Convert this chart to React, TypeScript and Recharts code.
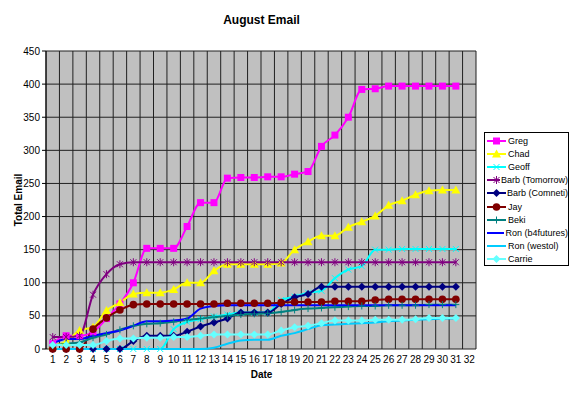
import { CartesianGrid, Line, LineChart, XAxis, YAxis } from 'recharts';

const days = [1, 2, 3, 4, 5, 6, 7, 8, 9, 10, 11, 12, 13, 14, 15, 16, 17, 18, 19, 20, 21, 22, 23, 24, 25, 26, 27, 28, 29, 30, 31, 32];
const yTicks = [0, 50, 100, 150, 200, 250, 300, 350, 400, 450];

const greg = [8, 20, 20, 26, 46, 68, 100, 152, 152, 152, 185, 221, 221, 258, 259, 259, 260, 260, 264, 268, 306, 323, 350, 392, 393, 397, 397, 397, 397, 397, 397];
const chad = [5, 11, 28, 33, 58, 70, 83, 85, 85, 90, 100, 100, 118, 128, 128, 128, 128, 130, 150, 162, 171, 171, 184, 192, 201, 217, 224, 233, 239, 240, 240];
const geoff = [0, 0, 0, 0, 0, 0, 0, 0, 0, 30, 41, 45, 49, 52, 55, 55, 55, 74, 79, 85, 88, 107, 120, 125, 150, 150, 151, 151, 151, 151, 151];
const barbTomorrow = [18, 18, 20, 82, 113, 128, 131, 131, 131, 131, 131, 131, 131, 131, 131, 131, 131, 131, 131, 131, 131, 131, 131, 131, 131, 131, 131, 131, 131, 131, 131];
const barbComneti = [0, 0, 0, 0, 0, 0, 12, 20, 20, 20, 26, 34, 40, 46, 55, 55, 55, 68, 78, 83, 94, 94, 94, 94, 94, 94, 94, 94, 94, 94, 94];
const jay = [0, 0, 0, 30, 47, 59, 67, 68, 68, 68, 68, 68, 68, 69, 69, 69, 69, 70, 71, 71, 71, 72, 72, 72, 74, 75, 75, 75, 75, 75, 75];
const beki = [5, 8, 10, 17, 22, 29, 35, 38, 39, 41, 44, 46, 48, 50, 52, 53, 54, 56, 59, 61, 62, 63, 64, 65, 65, 66, 66, 66, 67, 67, 67];
const ronB4futures = [8, 15, 15, 20, 24, 28, 35, 42, 42, 43, 46, 61, 65, 66, 66, 66, 66, 66, 66, 66, 66, 66, 66, 66, 66, 66, 66, 66, 66, 66, 66];
const ronWestol = [0, 0, 0, 0, 0, 0, 0, 0, 0, 0, 0, 0, 2, 8, 13, 14, 14, 20, 24, 30, 36, 37, 38, 39, 40, 42, 43, 44, 45, 46, 46];
const carrie = [6, 6, 6, 6, 12, 16, 16, 17, 17, 18, 18, 20, 22, 22, 22, 22, 22, 28, 33, 35, 39, 43, 43, 43, 44, 44, 44, 45, 47, 47, 47];

const series = [
  { name: 'Greg', values: greg, color: '#FF00FF', marker: 'square' },
  { name: 'Chad', values: chad, color: '#FFFF00', marker: 'triangle' },
  { name: 'Geoff', values: geoff, color: '#00FFFF', marker: 'x' },
  { name: 'Barb (Tomorrow)', values: barbTomorrow, color: '#800080', marker: 'star' },
  { name: 'Barb (Comneti)', values: barbComneti, color: '#000080', marker: 'diamond' },
  { name: 'Jay', values: jay, color: '#800000', marker: 'circle' },
  { name: 'Beki', values: beki, color: '#008080', marker: 'plus' },
  { name: 'Ron (b4futures)', values: ronB4futures, color: '#0000FF', marker: 'none' },
  { name: 'Ron (westol)', values: ronWestol, color: '#00CCFF', marker: 'none' },
  { name: 'Carrie', values: carrie, color: '#66FFFF', marker: 'diamond' }
];

const rows = days.map((day, i) => {
  const row: Record<string, number> = { day };
  series.forEach((s) => {
    if (i < s.values.length) row[s.name] = s.values[i];
  });
  return row;
});

const bounds = [0.5, ...days.map((d) => d + 0.5)];

const font = '"Liberation Sans", Arial, sans-serif';
const narrow = '"Liberation Sans Narrow", "Liberation Sans", Arial, sans-serif';

function Marker({ shape, color, cx, cy }: { shape: string; color: string; cx: number; cy: number }) {
  switch (shape) {
    case 'square':
      return <rect x={cx - 3.5} y={cy - 3.5} width={7} height={7} fill={color} />;
    case 'triangle':
      return <polygon points={`${cx},${cy - 4.5} ${cx + 4.5},${cy + 3.5} ${cx - 4.5},${cy + 3.5}`} fill={color} />;
    case 'diamond':
      return <polygon points={`${cx},${cy - 4} ${cx + 4},${cy} ${cx},${cy + 4} ${cx - 4},${cy}`} fill={color} />;
    case 'circle':
      return <circle cx={cx} cy={cy} r={3.8} fill={color} />;
    case 'x':
      return (
        <g stroke={color} strokeWidth={1}>
          <line x1={cx - 3} y1={cy - 3} x2={cx + 3} y2={cy + 3} />
          <line x1={cx - 3} y1={cy + 3} x2={cx + 3} y2={cy - 3} />
        </g>
      );
    case 'star':
      return (
        <g stroke={color} strokeWidth={1}>
          <line x1={cx - 3} y1={cy - 3} x2={cx + 3} y2={cy + 3} />
          <line x1={cx - 3} y1={cy + 3} x2={cx + 3} y2={cy - 3} />
          <line x1={cx} y1={cy - 4} x2={cx} y2={cy + 4} />
        </g>
      );
    case 'plus':
      return (
        <g stroke={color} strokeWidth={1}>
          <line x1={cx - 3.5} y1={cy} x2={cx + 3.5} y2={cy} />
          <line x1={cx} y1={cy - 3.5} x2={cx} y2={cy + 3.5} />
        </g>
      );
    default:
      return null;
  }
}

export default function App() {
  return (
    <div style={{ position: 'absolute', left: 0, top: 0, width: 575, height: 393, background: '#fff', fontFamily: font }}>
      <div style={{ position: 'absolute', left: 0, top: 13, width: 523, textAlign: 'center', fontSize: 12, fontWeight: 'bold' }}>
        August Email
      </div>
      <div
        style={{
          position: 'absolute',
          left: 18,
          top: 200,
          transform: 'translate(-50%, -50%) rotate(-90deg)',
          fontSize: 10,
          fontWeight: 'bold',
          whiteSpace: 'nowrap'
        }}
      >
        Total Email
      </div>
      <div style={{ position: 'absolute', left: 0, top: 369, width: 523, textAlign: 'center', fontSize: 10, fontWeight: 'bold' }}>
        Date
      </div>

      <LineChart width={575} height={393} data={rows} margin={{ top: 51, right: 99, bottom: 24, left: 16 }}>
        <CartesianGrid fill='#C0C0C0' stroke='#202020' strokeWidth={1} />
        <XAxis
          xAxisId={0}
          type='number'
          dataKey='day'
          domain={[0.5, 32.5]}
          ticks={bounds}
          interval={0}
          height={0}
          tickSize={4}
          tickFormatter={() => ''}
          stroke='#000'
          allowDataOverflow
        />
        <XAxis
          xAxisId='lbl'
          type='number'
          dataKey='day'
          domain={[0.5, 32.5]}
          ticks={days}
          interval={0}
          height={20}
          tickSize={4}
          tickMargin={3}
          tickLine={false}
          axisLine={false}
          tick={{ fontSize: 10, fill: '#000', fontFamily: font }}
          allowDataOverflow
        />
        <YAxis
          width={30}
          domain={[0, 450]}
          ticks={yTicks}
          interval={0}
          tickSize={4}
          tickMargin={2}
          stroke='#000'
          tick={{ fontSize: 10, fill: '#000', fontFamily: font }}
        />
        {series.map((s) => (
          <Line
            key={s.name}
            type='monotone'
            dataKey={s.name}
            stroke={s.color}
            strokeWidth={2}
            isAnimationActive={false}
            connectNulls={false}
            dot={(p: any) => (
              <g key={`${s.name}-${p.index}`}>
                {p.cx != null && p.cy != null ? <Marker shape={s.marker} color={s.color} cx={p.cx} cy={p.cy} /> : null}
              </g>
            )}
            activeDot={false}
          />
        ))}
      </LineChart>

      <div
        style={{
          position: 'absolute',
          left: 484,
          top: 132,
          width: 85,
          height: 134,
          border: '1px solid #000',
          background: '#fff',
          fontSize: 9,
          fontFamily: narrow,
          paddingTop: 1,
          boxSizing: 'border-box'
        }}
      >
        {series.map((s) => (
          <div key={s.name} style={{ display: 'flex', alignItems: 'center', height: 13.2, whiteSpace: 'nowrap' }}>
            <svg width={21} height={10} style={{ marginLeft: 1, marginRight: 1 }}>
              <line x1={1} y1={5} x2={20} y2={5} stroke={s.color} strokeWidth={2} />
              <Marker shape={s.marker} color={s.color} cx={10.5} cy={5} />
            </svg>
            <span>{s.name}</span>
          </div>
        ))}
      </div>
    </div>
  );
}
